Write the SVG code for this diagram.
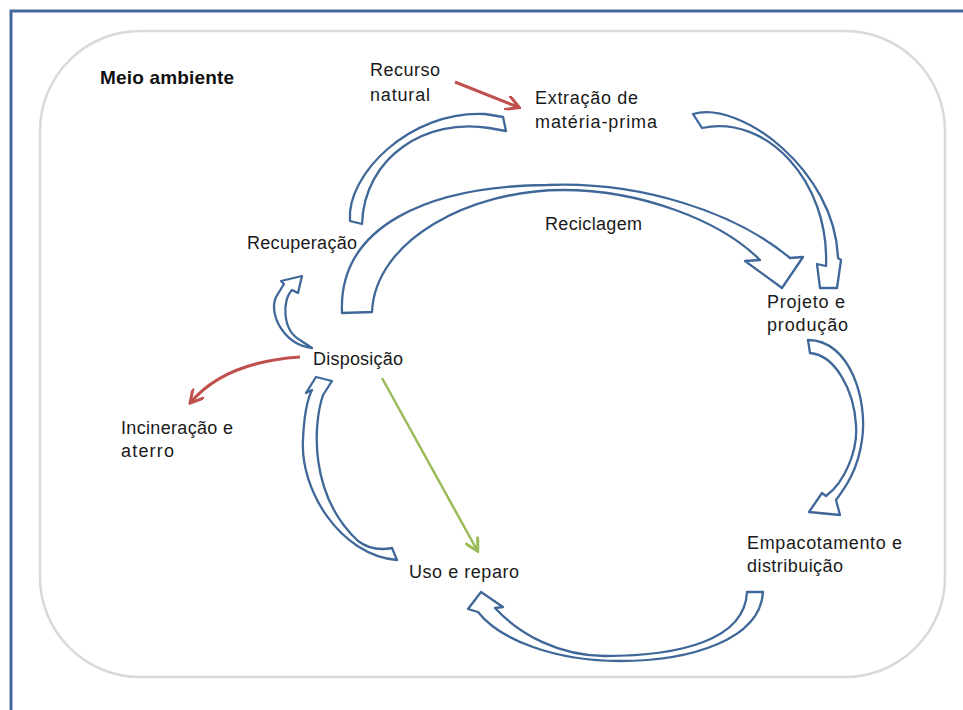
<svg xmlns="http://www.w3.org/2000/svg" width="963" height="710" viewBox="0 0 963 710">
  <style>
    .lbl { font-family: "Liberation Sans", Arial, sans-serif; font-size: 18px; fill: #1a1a1a; }
    .title { font-family: "Liberation Sans", Arial, sans-serif; font-size: 19px; font-weight: bold; fill: #111; }
    .block { fill: #ffffff; stroke: #3f6899; stroke-width: 2.3; stroke-linejoin: round; }
    .red { fill: none; stroke: #c0504d; stroke-width: 3; }
    .green { fill: none; stroke: #9bbb59; stroke-width: 2.5; }
  </style>
  <defs>
    <marker id="redHead" viewBox="0 0 10 10" refX="8" refY="5" markerWidth="5" markerHeight="5" orient="auto" markerUnits="strokeWidth">
      <path d="M0,0 L9,5 L0,10" fill="none" stroke="#c0504d" stroke-width="2"/>
    </marker>
    <marker id="greenHead" viewBox="0 0 10 10" refX="8" refY="5" markerWidth="6" markerHeight="6" orient="auto" markerUnits="strokeWidth">
      <path d="M0,0 L9,5 L0,10" fill="none" stroke="#9bbb59" stroke-width="2"/>
    </marker>
  </defs>

  <rect width="963" height="710" fill="#ffffff"/>

  <!-- page frame -->
  <path d="M11,710 V11 H963" fill="none" stroke="#44689b" stroke-width="3"/>

  <!-- environment boundary -->
  <g id="meio-ambiente">
    <rect x="40" y="31" width="905" height="646" rx="100" ry="100" fill="none" stroke="#d9d9d9" stroke-width="2.5"/>
    <text class="title" x="100" y="84" textLength="134">Meio ambiente</text>
  </g>

  <!-- stage labels -->
  <g id="recurso-natural"><text class="lbl" x="370" y="76" textLength="70">Recurso</text><text class="lbl" x="370" y="101" textLength="60">natural</text></g>
  <g id="extracao"><text class="lbl" x="535" y="104" textLength="103">Extração de</text><text class="lbl" x="535" y="128" textLength="122">matéria-prima</text></g>
  <g id="reciclagem"><text class="lbl" x="545" y="230" textLength="97">Reciclagem</text></g>
  <g id="recuperacao"><text class="lbl" x="247" y="249" textLength="110">Recuperação</text></g>
  <g id="disposicao"><text class="lbl" x="313" y="365" textLength="90">Disposição</text></g>
  <g id="projeto"><text class="lbl" x="767" y="308" textLength="78">Projeto e</text><text class="lbl" x="767" y="331" textLength="81">produção</text></g>
  <g id="empacotamento"><text class="lbl" x="747" y="549" textLength="155">Empacotamento e</text><text class="lbl" x="747" y="572" textLength="96">distribuição</text></g>
  <g id="incineracao"><text class="lbl" x="121" y="434" textLength="112">Incineração e</text><text class="lbl" x="121" y="457" textLength="53">aterro</text></g>
  <g id="uso"><text class="lbl" x="409" y="578" textLength="110">Uso e reparo</text></g>

  <!-- connectors -->
  <g id="connectors">
    <!-- recuperação to extração -->
    <path class="block" d="M350,221 C346,175 410,110 485,114 L503,117 L506,131 L489,128 C426.5,118 364.5,156 362,224 Z"/>
    <!-- extração to projeto -->
    <path class="block" d="M693,114 C740,100 835,170 838,258 L841,260 L837,288 L820,288 L817,264 L826,266 C829.7,180.8 765.7,113.8 702,128 Z"/>
    <!-- reciclagem: disposição to projeto -->
    <path class="block" d="M342,313 C338,225 430,186 547,185 C640,181 735,212 790,258 L803,257 L782,288 L745,261 L760,260 C720,220 640,190 563,190 C470,190 375,240 372,312 Z"/>
    <!-- projeto to empacotamento -->
    <path class="block" d="M808,340 C850,340 868,400 862,440 C858,470 845,488 836,500 L840,515 L809,512 L822,493 L826,496 C845,482 858,450 856,425 C854,390 835,355 810,353 Z"/>
    <!-- empacotamento to uso -->
    <path class="block" d="M763,592 C760,640 690,661 620,661 C555,661 500,640 478,612 L468,609 L481,592 L503,607 L495,608 C520,635 560,656 605,656 C680,656 745,640 747,592 Z"/>
    <!-- uso to disposição -->
    <path class="block" d="M397,560 C340,555 300,490 303,440 C304,415 308,398 312,390 L306,393 L316,377 L332,381 L323,395 C313,425 309,495 358,541 C370,550 382,550 392,548 Z"/>
    <!-- disposição to recuperação -->
    <path class="block" d="M312,348 C285,345 268,315 276,297 L284,284 L281,281 L302,276 L298,293 L292,290 C282,300 282,330 300,340 Z"/>

    <!-- natural resource input -->
    <path class="red" d="M455,82 L518,107" marker-end="url(#redHead)"/>
    <!-- disposal to incineration -->
    <path class="red" d="M300,357 Q225,362 191,402" marker-end="url(#redHead)"/>
    <!-- direct reuse -->
    <path class="green" d="M382,378 L477,550" marker-end="url(#greenHead)"/>
  </g>
</svg>
